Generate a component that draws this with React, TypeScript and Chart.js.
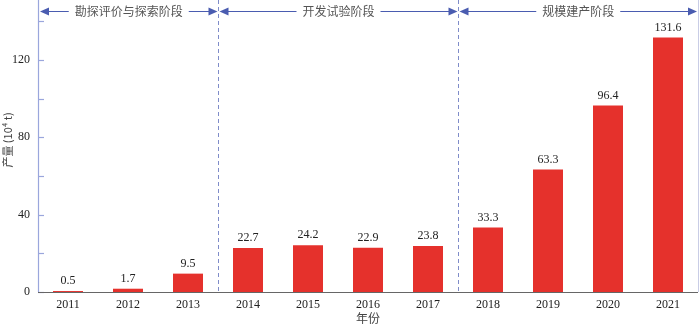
import React, { useEffect, useRef } from "react";
import { Chart, registerables } from "chart.js";

Chart.register(...registerables);

const years = ["2011", "2012", "2013", "2014", "2015", "2016", "2017", "2018", "2019", "2020", "2021"];
const output = [0.5, 1.7, 9.5, 22.7, 24.2, 22.9, 23.8, 33.3, 63.3, 96.4, 131.6];
const yMajorTicks = [0, 40, 80, 120];
const yMinorTicks = [20, 60, 100, 140];
const stageNames = ["勘探评价与探索阶段", "开发试验阶段", "规模建产阶段"];
const stageStart = [0, 3, 7];
const stageEnd = [2, 6, 10];
const xTitle = "年份";
const yTitle = "产量 (10⁴ t)";

const SERIF = "'Liberation Serif', 'DejaVu Serif', 'Times New Roman', serif";
const CJK = "'Noto Sans CJK SC', 'Noto Sans', sans-serif";

export default function App() {
  const ref = useRef<HTMLCanvasElement | null>(null);

  useEffect(() => {
    document.body.style.margin = "0";
    const canvas = ref.current;
    if (!canvas) return;

    const overlay = {
      id: "overlay",
      afterDraw(chart: any) {
        const ctx = chart.ctx as CanvasRenderingContext2D;
        const area = chart.chartArea;
        const xs = chart.scales.x;
        const ys = chart.scales.y;
        ctx.save();

        // right faint frame
        ctx.strokeStyle = "#c9cde6";
        ctx.lineWidth = 1;
        ctx.beginPath();
        ctx.moveTo(area.right + 0.5, 0);
        ctx.lineTo(area.right + 0.5, area.bottom);
        ctx.stroke();

        // left axis line
        ctx.strokeStyle = "#9aa6dc";
        ctx.lineWidth = 1.2;
        ctx.beginPath();
        ctx.moveTo(area.left + 0.5, 0);
        ctx.lineTo(area.left + 0.5, area.bottom);
        ctx.stroke();

        // y ticks (inside)
        [...yMajorTicks, ...yMinorTicks].forEach((v) => {
          const y = Math.round(ys.getPixelForValue(v)) + 0.5;
          ctx.beginPath();
          ctx.moveTo(area.left, y);
          ctx.lineTo(area.left + 6, y);
          ctx.stroke();
        });

        // bottom axis
        ctx.strokeStyle = "#666";
        ctx.lineWidth = 1.2;
        ctx.beginPath();
        ctx.moveTo(area.left, area.bottom + 0.5);
        ctx.lineTo(area.right, area.bottom + 0.5);
        ctx.stroke();

        // value labels
        const meta = chart.getDatasetMeta(0);
        ctx.fillStyle = "#222";
        ctx.font = `12px ${SERIF}`;
        ctx.textAlign = "center";
        ctx.textBaseline = "bottom";
        meta.data.forEach((bar: any, i: number) => {
          ctx.fillText(String(output[i]), bar.x, bar.y - 4);
        });

        // stage boundaries
        const bounds: number[] = [];
        for (let i = 1; i < stageStart.length; i++) {
          const a = xs.getPixelForValue(stageEnd[i - 1]);
          const b = xs.getPixelForValue(stageStart[i]);
          bounds.push(Math.round((a + b) / 2) + 0.5);
        }
        ctx.strokeStyle = "#7f8cc9";
        ctx.lineWidth = 1;
        ctx.setLineDash([4, 3]);
        bounds.forEach((x) => {
          ctx.beginPath();
          ctx.moveTo(x, 0);
          ctx.lineTo(x, area.bottom);
          ctx.stroke();
        });
        ctx.setLineDash([]);

        // stage arrows
        const edges = [area.left + 1, ...bounds, area.right];
        const ay = 11.5;
        ctx.font = `12px ${CJK}`;
        ctx.textBaseline = "middle";
        ctx.textAlign = "center";
        const arrowColor = "#4a5cb0";
        stageNames.forEach((name, i) => {
          const l = edges[i] + 1;
          const r = edges[i + 1] - 1;
          const cx = (l + r) / 2;
          const tw = ctx.measureText(name).width;
          ctx.fillStyle = "#555";
          ctx.fillText(name, cx, ay);
          ctx.strokeStyle = arrowColor;
          ctx.lineWidth = 1.2;
          ctx.beginPath();
          ctx.moveTo(l + 4, ay);
          ctx.lineTo(cx - tw / 2 - 6, ay);
          ctx.moveTo(cx + tw / 2 + 6, ay);
          ctx.lineTo(r - 4, ay);
          ctx.stroke();
          ctx.fillStyle = arrowColor;
          ctx.beginPath();
          ctx.moveTo(l, ay);
          ctx.lineTo(l + 9, ay - 4);
          ctx.lineTo(l + 9, ay + 4);
          ctx.closePath();
          ctx.fill();
          ctx.beginPath();
          ctx.moveTo(r, ay);
          ctx.lineTo(r - 9, ay - 4);
          ctx.lineTo(r - 9, ay + 4);
          ctx.closePath();
          ctx.fill();
        });

        // axis titles
        ctx.fillStyle = "#444";
        ctx.font = `12px ${CJK}`;
        ctx.textAlign = "center";
        ctx.textBaseline = "middle";
        ctx.fillText(xTitle, (area.left + area.right) / 2, 318);

        ctx.save();
        ctx.translate(8, 140);
        ctx.rotate(-Math.PI / 2);
        ctx.font = `11px ${CJK}`;
        ctx.fillText(yTitle, 0, 0);
        ctx.restore();

        ctx.restore();
      },
    };

    const chart = new Chart(canvas, {
      type: "bar",
      data: {
        labels: years,
        datasets: [
          {
            data: output,
            backgroundColor: "#e5312c",
            borderWidth: 0,
            barPercentage: 0.5,
            categoryPercentage: 1,
          },
        ],
      },
      options: {
        responsive: false,
        animation: false,
        maintainAspectRatio: false,
        layout: { padding: { top: 0, right: 2, left: 0, bottom: 0 } },
        plugins: { legend: { display: false }, tooltip: { enabled: false } },
        scales: {
          x: {
            grid: { display: false, drawTicks: false },
            border: { display: false },
            ticks: { color: "#222", font: { family: SERIF, size: 12 }, padding: 6, maxRotation: 0 },
            afterFit(scale: any) {
              scale.height = 33;
              scale.paddingLeft = 0;
              scale.paddingRight = 0;
            },
          },
          y: {
            min: 0,
            max: 151,
            grid: { display: false, drawTicks: false },
            border: { display: false },
            ticks: { color: "#222", font: { family: SERIF, size: 12 }, padding: 8 },
            afterBuildTicks(scale: any) {
              scale.ticks = yMajorTicks.map((v) => ({ value: v }));
            },
            afterFit(scale: any) {
              scale.width = 38;
              scale.paddingTop = 0;
              scale.paddingBottom = 0;
            },
          },
        },
      },
      plugins: [overlay],
    });

    return () => chart.destroy();
  }, []);

  return (
    <div style={{ position: "absolute", left: 0, top: 0, width: 700, height: 325 }}>
      <canvas ref={ref} width={700} height={325} style={{ width: 700, height: 325 }} />
    </div>
  );
}
